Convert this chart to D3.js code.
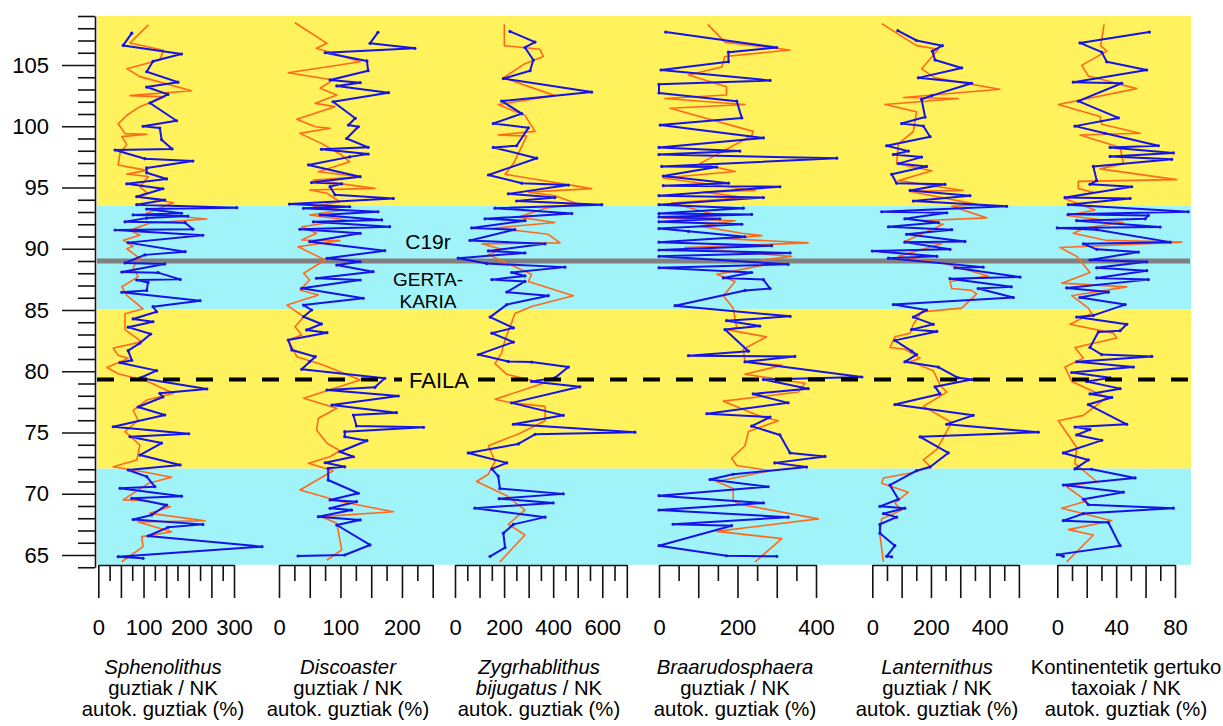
<!DOCTYPE html>
<html><head><meta charset="utf-8">
<script src="https://cdn.jsdelivr.net/npm/d3@7"></script>
<style>
body{margin:0;background:#fff}
svg{display:block}
text{font-family:"Liberation Sans",Arial,Helvetica,sans-serif;fill:#000}
</style></head>
<body><svg id="chart" width="1223" height="726"></svg>
<script>
// ---------------- DATA ----------------
const depthTicks = d3.range(64, 110, 1);
const depthLabels = [65, 70, 75, 80, 85, 90, 95, 100, 105];
const zoneBounds = [109, 93.5, 85.05, 72.05, 64.2];   // yellow, cyan, yellow, cyan
const zoneKinds = ["yellow", "cyan", "yellow", "cyan"];
const eventDepth = 89.0;      // gray line
const faultDepth = 79.33;     // dashed line

const xDomains = [[0,300],[0,250],[0,700],[0,400],[0,500],[0,80]];
const xTickSteps = [25,25,50,50,50,10];
const xLabelValues = [[0,100,200,300],[0,100,200],[0,200,400,600],[0,200,400],[0,200,400],[0,40,80]];

const titleLines = [
  [[["Sphenolithus",true]],[["guztiak / NK",false]],[["autok. guztiak (%)",false]]],
  [[["Discoaster",true]],[["guztiak / NK",false]],[["autok. guztiak (%)",false]]],
  [[["Zygrhablithus",true]],[["bijugatus",true],[" / NK",false]],[["autok. guztiak (%)",false]]],
  [[["Braarudosphaera",true]],[["guztiak / NK",false]],[["autok. guztiak (%)",false]]],
  [[["Lanternithus",true]],[["guztiak / NK",false]],[["autok. guztiak (%)",false]]],
  [[["Kontinentetik gertuko",false]],[["taxoiak / NK",false]],[["autok. guztiak (%)",false]]]
];

// [depth, value]
const sphenBlue = [[107.6,74],[106.6,55],[105.9,184],[105.3,121],[104.45,107],[103.6,176],[103.2,107],[102.6,154],[101.9,114],[100.45,173],[100.0,99],[99.85,136],[98.9,140],[98.15,163],[98.06,37],[97.35,103],[97.16,209],[96.6,107],[96.2,107],[95.7,151],[95.3,63],[94.9,143],[94.25,85],[93.98,147],[93.6,85],[93.35,306],[93.24,107],[92.9,184],[92.76,77],[92.67,198],[92.5,107],[92.2,59],[92.13,192],[91.6,209],[91.53,37],[91.1,231],[90.5,66],[89.76,192],[89.5,103],[88.84,59],[88.76,147],[88.1,52],[88.05,132],[87.5,181],[87.45,85],[87.25,110],[86.6,107],[86.45,52],[85.76,225],[85.27,121],[84.86,129],[84.27,77],[84.04,121],[83.6,66],[83.04,116],[82.3,92],[81.68,66],[80.9,74],[80.7,48],[80.05,129],[79.45,92],[78.55,240],[78.2,136],[77.9,143],[77.08,88],[76.43,147],[75.47,33],[74.9,200],[74.66,70],[74.14,140],[73.16,92],[72.35,181],[71.94,66],[71.4,107],[70.58,125],[70.44,48],[69.8,184],[69.63,74],[69.08,151],[68.27,118],[67.9,77],[67.5,231],[67.26,154],[66.55,110],[65.68,362],[64.86,44],[64.73,99]];
const sphenOrange = [[108.27,111],[107.6,92],[106.8,70],[106.2,144],[105.4,136],[104.7,63],[104.05,92],[102.9,206],[102.5,70],[102.4,147],[101.6,92],[100.9,63],[100.2,44],[99.4,59],[99.35,107],[99.15,52],[98.5,63],[97.8,48],[96.84,44],[96.4,107],[96.1,63],[95.9,111],[95.07,92],[94.58,107],[94.25,88],[93.76,166],[92.9,107],[92.43,240],[92.1,114],[91.5,70],[91.1,92],[90.7,55],[90.2,77],[90.0,63],[89.2,92],[88.5,77],[87.7,88],[86.9,52],[86.2,63],[85.1,99],[84.7,59],[83.4,59],[82.4,96],[81.9,33],[81.3,44],[81.05,66],[80.3,19],[79.8,44],[79.2,107],[78.2,166],[77.65,107],[76.8,77],[76.0,88],[75.07,59],[73.98,92],[72.76,85],[72.2,33],[71.8,99],[71.34,162],[70.85,111],[69.5,55],[69.43,107],[68.94,159],[68.4,114],[67.8,236],[67.7,88],[66.9,162],[66.5,96],[65.68,99],[64.45,52]];

const discoBlue = [[107.67,161],[106.77,148],[106.36,221],[106.0,75],[105.33,143],[104.53,145],[103.78,83],[103.56,132],[103.29,94],[102.74,178],[102.0,88],[100.65,124],[100.1,113],[99.96,129],[99.0,110],[98.28,145],[98.12,69],[97.73,145],[97.5,115],[96.84,48],[95.88,132],[95.4,53],[95.3,102],[95.07,83],[94.4,91],[94.1,186],[93.65,17],[93.43,115],[93.3,40],[93.02,161],[92.76,67],[92.35,167],[92.2,56],[91.8,180],[91.59,34],[91.26,132],[90.58,50],[89.84,172],[89.22,78],[88.94,132],[88.67,94],[88.13,153],[87.59,61],[87.45,132],[86.77,37],[85.96,137],[85.4,40],[85.0,53],[84.45,40],[83.86,69],[83.37,45],[83.15,78],[82.55,15],[81.73,21],[81.19,59],[80.78,50],[80.16,37],[79.42,172],[78.69,156],[78.47,78],[77.98,194],[77.24,86],[76.62,191],[76.43,121],[75.53,126],[75.42,235],[75.07,107],[74.66,107],[74.33,143],[73.43,99],[73.02,121],[72.53,75],[72.2,107],[72.08,80],[71.12,80],[70.04,129],[69.49,83],[69.35,126],[68.81,83],[68.67,118],[68.13,64],[67.86,132],[67.45,94],[65.82,148],[65.0,107],[64.92,31]];
const discoOrange = [[108.45,26],[106.77,78],[106.36,61],[105.27,132],[104.37,15],[103.78,88],[103.1,67],[102.55,94],[101.87,59],[101.6,91],[100.57,29],[99.96,59],[99.83,83],[99.42,34],[98.6,69],[97.65,102],[97.1,115],[96.29,64],[95.88,132],[95.6,56],[94.93,156],[94.8,50],[94.53,78],[93.84,99],[93.43,56],[93.16,105],[92.76,50],[92.35,110],[91.8,37],[91.26,61],[90.71,37],[90.66,99],[90.17,31],[89.08,75],[88.0,40],[87.45,50],[86.63,34],[86.22,64],[85.4,13],[84.45,40],[83.64,26],[82.96,37],[82.55,15],[81.19,29],[80.51,72],[79.29,132],[77.8,40],[76.98,94],[76.16,64],[75.2,61],[74.12,78],[73.51,99],[73.02,83],[72.49,48],[71.88,88],[70.31,34],[69.35,102],[68.53,186],[68.13,69],[67.59,94],[65.41,102],[64.59,78]];

const zygBlue = [[107.74,224],[106.87,326],[106.43,285],[105.41,319],[104.53,306],[103.89,197],[102.79,557],[102.06,190],[101.03,272],[100.22,156],[99.87,299],[98.41,251],[98.27,156],[97.39,333],[96.02,136],[95.35,272],[95.2,462],[94.48,217],[94.18,407],[93.9,251],[93.6,598],[93.31,163],[92.87,476],[92.44,122],[92.29,285],[91.7,68],[91.56,244],[90.68,61],[90.4,367],[89.82,136],[89.66,285],[89.23,13],[88.79,129],[88.5,448],[88.06,231],[87.78,285],[87.48,150],[87.33,285],[86.46,211],[86.17,380],[85.44,211],[84.42,143],[83.54,238],[83.11,150],[82.38,238],[81.36,95],[80.8,217],[80.75,312],[80.34,462],[79.46,407],[79.17,312],[78.73,509],[77.42,231],[76.4,441],[75.67,238],[75.03,733],[74.85,326],[74.07,258],[73.33,54],[72.52,211],[72.03,150],[71.44,176],[70.42,183],[69.99,441],[69.6,180],[69.25,400],[68.82,81],[68.09,367],[67.5,238],[66.78,197],[65.61,204],[64.89,143]];
const zygOrange = [[108.32,201],[106.58,201],[106.28,346],[105.7,360],[105.11,285],[103.95,197],[102.5,407],[101.77,176],[100.89,285],[99.58,326],[99.29,176],[99.2,292],[96.95,238],[96.08,204],[94.91,557],[94.62,299],[94.33,407],[93.66,502],[93.31,367],[92.58,258],[92.14,407],[91.7,163],[91.18,380],[90.48,428],[90.4,109],[89.96,190],[89.52,136],[89.08,183],[87.91,312],[87.33,299],[86.17,482],[85.29,312],[84.71,244],[83.98,231],[82.96,211],[82.09,197],[81.5,190],[80.62,163],[79.75,211],[79.02,360],[77.71,163],[77.42,231],[77.13,367],[75.96,367],[74.94,265],[73.92,136],[72.61,163],[71.88,143],[71.59,136],[71.0,88],[69.84,211],[68.67,285],[67.51,217],[66.63,285],[64.44,183]];

const braaBlue = [[107.69,17],[106.43,300],[106.05,177],[105.26,177],[104.59,5],[103.74,283],[103.42,0],[102.72,0],[102.05,198],[100.68,211],[100.1,3],[99.05,266],[98.27,0],[97.97,206],[97.69,0],[97.39,453],[96.72,7],[96.67,147],[95.93,11],[95.35,177],[95.15,11],[95.06,308],[94.33,0],[94.18,266],[93.6,0],[93.31,215],[92.87,0],[92.8,236],[92.6,0],[92.45,155],[92.2,0],[92.0,211],[91.65,0],[91.42,75],[90.98,219],[90.54,0],[90.25,287],[89.9,0],[89.66,334],[89.38,0],[88.73,329],[88.44,0],[88.06,236],[87.62,164],[87.48,266],[86.75,283],[86.6,219],[85.35,41],[84.48,334],[84.13,172],[83.69,257],[83.4,168],[81.64,228],[81.27,75],[81.21,346],[80.77,219],[79.53,517],[79.32,266],[78.58,380],[78.15,240],[77.42,329],[76.54,122],[76.26,283],[75.52,236],[74.8,308],[73.33,334],[73.05,423],[72.52,295],[72.18,376],[71.59,189],[71.16,130],[70.57,278],[69.84,0],[69.25,266],[68.67,0],[68.09,329],[67.51,36],[67.39,185],[65.76,0],[64.94,172],[64.89,300]];
const braaOrange = [[108.32,124],[106.87,168],[106.22,334],[105.7,168],[104.83,160],[104.18,75],[103.22,172],[102.55,172],[102.26,15],[101.77,219],[101.47,28],[99.58,240],[99.23,236],[96.95,104],[96.31,194],[95.78,11],[94.76,245],[94.62,113],[94.18,219],[93.74,32],[92.72,151],[92.52,7],[92.29,194],[91.85,104],[91.27,211],[91.07,262],[90.83,168],[90.48,380],[90.1,66],[89.38,338],[89.08,262],[88.64,262],[87.91,147],[87.33,194],[86.17,164],[85.15,189],[83.54,198],[83.4,172],[82.81,274],[81.79,215],[80.77,219],[80.48,313],[79.75,219],[79.02,372],[78.3,355],[77.56,164],[76.26,262],[75.96,304],[75.09,228],[73.92,219],[72.9,185],[72.31,198],[71.88,283],[71.0,147],[70.42,189],[69.4,189],[69.11,211],[67.95,406],[66.93,147],[66.34,313],[64.44,245]];

const lantBlue = [[107.8,87],[107.0,151],[106.58,239],[106.13,205],[105.41,214],[104.76,305],[103.95,157],[103.51,339],[102.5,203],[102.2,168],[100.75,180],[100.22,100],[100.02,174],[99.15,197],[98.41,49],[97.97,123],[97.69,72],[97.48,168],[96.95,89],[96.72,185],[96.08,66],[95.35,83],[95.26,248],[94.76,129],[94.33,333],[93.89,140],[93.46,458],[93.02,32],[92.93,254],[92.44,111],[92.14,225],[91.79,55],[91.56,271],[91.18,117],[90.6,316],[90.54,111],[89.95,265],[89.81,0],[89.38,220],[89.23,55],[88.5,378],[88.44,282],[87.69,504],[87.56,265],[86.89,474],[86.75,361],[86.02,481],[85.44,72],[85.0,185],[84.42,140],[83.83,208],[83.4,134],[83.25,220],[82.52,77],[81.64,134],[81.36,151],[80.77,111],[80.34,225],[79.46,293],[79.32,339],[78.73,214],[78.15,231],[77.28,77],[76.4,344],[75.67,254],[75.03,566],[74.65,163],[73.33,259],[72.18,197],[71.88,151],[70.71,60],[69.55,89],[68.97,26],[68.82,111],[68.38,38],[68.09,83],[67.51,26],[66.78,26],[65.76,77],[64.89,49],[64.85,66]];
const lantOrange = [[108.38,32],[106.58,151],[106.28,225],[104.68,168],[103.95,214],[103.02,435],[102.35,106],[102.26,293],[101.77,43],[101.18,151],[99.58,140],[98.56,89],[96.95,83],[96.37,203],[95.56,89],[94.76,310],[94.68,129],[93.6,361],[93.46,271],[92.52,390],[92.29,163],[92.0,242],[90.6,111],[90.4,237],[89.38,89],[88.79,248],[87.77,395],[87.33,265],[86.75,271],[86.6,339],[86.31,356],[85.15,305],[84.85,168],[83.83,140],[83.11,129],[82.81,77],[81.94,60],[81.79,111],[81.07,163],[80.77,129],[80.48,163],[80.04,208],[78.88,231],[78.3,254],[77.13,174],[75.82,271],[73.63,220],[72.76,174],[72.23,197],[71.73,140],[71.29,38],[70.86,32],[70.13,123],[69.25,77],[68.67,100],[67.95,32],[66.63,26],[64.44,38]];

const kontBlue = [[107.69,62.6],[106.8,15.4],[106.05,30.2],[105.26,33.6],[104.59,60.8],[103.6,10.9],[103.51,43.8],[102.05,14.3],[100.68,41.5],[100.01,12],[99.43,32.4],[98.41,68.7],[98.27,35.9],[97.82,78.9],[97.54,35.9],[97.3,77.8],[96.72,24.5],[95.56,26.8],[95.26,22.2],[95.06,50.6],[94.18,5.2],[94.1,49.5],[93.6,7.5],[93.02,89],[92.81,7.5],[92.72,61.9],[92.44,59.7],[92.29,13.2],[91.77,69.9],[91.7,0],[91.56,26.8],[90.54,76.7],[90.4,17.7],[89.95,26.8],[89.73,55.1],[89.08,22.2],[88.93,60.8],[88.44,26.8],[88.21,60.8],[87.62,26.8],[87.48,61.9],[86.8,6.4],[86.46,34.7],[86.02,15.4],[85.44,46.1],[84.56,24.5],[84.42,13.2],[83.83,47.2],[83.31,42.7],[83.2,27.9],[81.94,22.2],[81.36,30.2],[81.21,64.2],[80.77,13.2],[80.34,51.7],[79.9,9.8],[79.46,35.9],[79.17,20],[78.58,42.7],[78.15,22.2],[77.86,37],[77.28,21.1],[75.67,47.2],[75.44,12],[75.24,22.2],[74.8,13.2],[74.36,30.2],[73.33,4.1],[72.76,21.1],[72.03,12],[72.0,23.4],[71.29,52.9],[70.71,4.1],[70.13,44.9],[69.55,17.7],[69.11,21.1],[68.82,78.9],[68.38,17.7],[67.8,4.1],[67.65,34.7],[65.76,42.7],[65.03,0],[64.89,4.1]];
const kontOrange = [[108.32,31.8],[106.58,29.5],[106.13,33.6],[104.97,16.6],[104.1,21.1],[103.07,54],[101.77,0.7],[100.8,29],[100.16,30.2],[99.43,56.3],[99.29,15.4],[98.27,42.7],[96.95,44.9],[96.52,29],[95.64,81.2],[95.5,14.3],[94.91,14.3],[94.62,24.5],[94.09,5.2],[93.16,25.6],[92.72,6.4],[92.14,44.9],[91.7,18.8],[91.27,10.9],[90.68,33.6],[90.54,84.6],[90.1,1.8],[89.38,13.2],[88.06,22.2],[87.19,3],[86.89,47.2],[86.17,9.8],[85.15,21.1],[84.71,23.4],[83.83,8.6],[83.11,38.1],[82.72,40.4],[81.94,12],[81.07,17.7],[80.34,5.2],[79.17,9.8],[77.86,33.6],[76.4,17.7],[75.96,0.7],[73.78,13.2],[72.46,12],[71.0,26.8],[70.57,6.4],[69.4,20],[68.82,3],[67.8,37],[67.07,7.5],[66.63,24.5],[64.44,6.4]];

const blueSeries = [sphenBlue, discoBlue, zygBlue, braaBlue, lantBlue, kontBlue];
const orangeSeries = [sphenOrange, discoOrange, zygOrange, braaOrange, lantOrange, kontOrange];

// ---------------- LAYOUT / STYLE ----------------
const plotLeft = 97, plotRight = 1191;
const axisY = 565;
const xRanges = [[98.3,234],[279,432.7],[455,626.8],[659,816],[872.3,1018.9],[1057.3,1175]];
const titleX = [163, 348, 539, 735, 937, 1126];
const colors = {yellow:"#fff25c", cyan:"#9ff3f9", blue:"#1414e6", orange:"#ff6a1a", gray:"#808080"};

const svg = d3.select("#chart");
const y = d3.scaleLinear().domain([64, 109]).range([567.25, 16]);

// background zones
const zones = zoneKinds.map((k,i)=>({kind:k, top:zoneBounds[i], bot:zoneBounds[i+1]}));
svg.append("g").selectAll("rect").data(zones).join("rect")
  .attr("x", plotLeft).attr("width", plotRight-plotLeft)
  .attr("y", d=>y(d.top)).attr("height", d=>y(d.bot)-y(d.top))
  .attr("fill", d=>colors[d.kind]);

// event gray line
svg.append("line").attr("x1",plotLeft).attr("x2",plotRight-1)
  .attr("y1",y(eventDepth)).attr("y2",y(eventDepth))
  .attr("stroke",colors.gray).attr("stroke-width",5);

// data
const xScales = xDomains.map((dom,i)=>d3.scaleLinear().domain(dom).range(xRanges[i]));
xScales.forEach((xs,i)=>{
  const line = d3.line().x(d=>xs(d[1])).y(d=>y(d[0]));
  const g = svg.append("g");
  g.append("path").datum(orangeSeries[i]).attr("d",line)
    .attr("fill","none").attr("stroke",colors.orange).attr("stroke-width",1.6).attr("stroke-linejoin","round");
  g.append("path").datum(blueSeries[i]).attr("d",line)
    .attr("fill","none").attr("stroke",colors.blue).attr("stroke-width",2).attr("stroke-linejoin","round");
  g.selectAll("circle").data(blueSeries[i]).join("circle")
    .attr("cx",d=>xs(d[1])).attr("cy",d=>y(d[0])).attr("r",1.6).attr("fill",colors.blue);
});

// fault dashed line
const fy = y(faultDepth);
[[plotLeft, 402],[478, plotRight-1]].forEach(s=>{
  svg.append("line").attr("x1",s[0]).attr("x2",s[1]).attr("y1",fy).attr("y2",fy)
    .attr("stroke","#000").attr("stroke-width",4).attr("stroke-dasharray","17,16");
});

// annotations
svg.append("text").attr("x",428).attr("y",248.5).attr("text-anchor","middle").attr("font-size",21).text("C19r");
svg.append("text").attr("x",428).attr("y",286).attr("text-anchor","middle").attr("font-size",19).text("GERTA-");
svg.append("text").attr("x",428).attr("y",308).attr("text-anchor","middle").attr("font-size",19).text("KARIA");
svg.append("text").attr("x",439).attr("y",388).attr("text-anchor","middle").attr("font-size",22).text("FAILA");

// y axis
const yAxis = svg.append("g").attr("transform","translate(95,0)")
  .call(d3.axisLeft(y).tickValues(depthTicks).tickSize(17).tickSizeOuter(0)
    .tickFormat(d=>depthLabels.includes(d)?d:""));
yAxis.selectAll(".tick line").attr("stroke","#111").attr("stroke-width",1.6)
  .attr("x2", d=>depthLabels.includes(d)?-33:-17);
yAxis.select(".domain").attr("stroke","#111").attr("stroke-width",1.6);
yAxis.selectAll(".tick text").attr("x",-46).attr("font-size",22).attr("fill","#000")
  .style("font-family",'"Liberation Sans",Arial,sans-serif');

// x axes
xScales.forEach((xs,i)=>{
  const step = xTickSteps[i];
  const ticks = d3.range(xDomains[i][0], xDomains[i][1]+step/2, step);
  const g = svg.append("g").attr("transform",`translate(0,${axisY})`)
    .call(d3.axisBottom(xs).tickValues(ticks).tickSize(33).tickSizeOuter(0)
      .tickFormat(d=>xLabelValues[i].includes(d)?d:""));
  g.select(".domain").attr("stroke","#111").attr("stroke-width",1.6);
  g.selectAll(".tick line").attr("stroke","#111").attr("stroke-width",1.6)
    .attr("y2", d=>(Math.round(d/step)%2===0)?33:16);
  g.selectAll(".tick text").attr("y",54).attr("font-size",22).attr("fill","#000")
    .style("font-family",'"Liberation Sans",Arial,sans-serif');
});

// titles
const lineY = [674, 695, 716];
titleLines.forEach((lines,i)=>{
  lines.forEach((parts,j)=>{
    const t = svg.append("text").attr("x",titleX[i]).attr("y",lineY[j])
      .attr("text-anchor","middle").attr("font-size",20.3);
    parts.forEach(p=>t.append("tspan").attr("font-style",p[1]?"italic":"normal").text(p[0]));
  });
});
</script>
</body></html>
